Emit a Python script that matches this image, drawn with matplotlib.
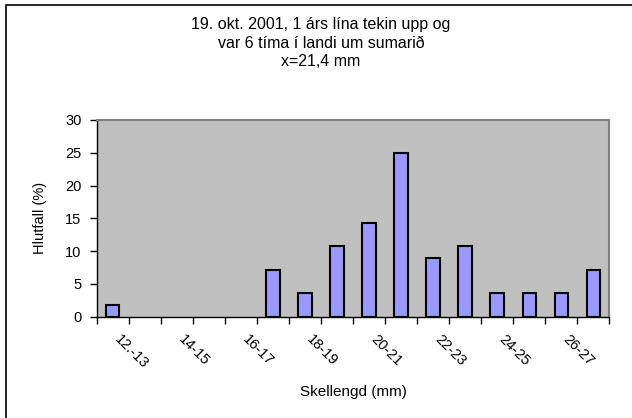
import matplotlib
matplotlib.use('Agg')
import matplotlib.pyplot as plt
import matplotlib.transforms as mtransforms
import numpy as np

# length classes (mm) and share of catch (%)
categories = ['12.-13', '13-14', '14-15', '15-16', '16-17', '17-18', '18-19', '19-20',
              '20-21', '21-22', '22-23', '23-24', '24-25', '25-26', '26-27', '27-28']
percent = [1.79, 0, 0, 0, 0, 7.14, 3.57, 10.71, 14.29, 25.0, 8.93, 10.71, 3.57, 3.57, 3.57, 7.14]
title_lines = ['19. okt. 2001, 1 árs lína tekin upp og',
               'var 6 tíma í landi um sumarið',
               'x=21,4 mm']

plt.rcParams['font.family'] = ['Liberation Sans', 'DejaVu Sans']

fig = plt.figure(figsize=(6.32, 4.18), dpi=100)
ax = fig.add_axes([0.153, 0.2423, 0.8112, 0.4707])

x = np.arange(len(categories))
vals = np.array(percent)
shown = vals > 0  # empty classes get no bar at all
ax.bar(x[shown], vals[shown], width=0.42, color='#9999ff', edgecolor='black', linewidth=1.5, zorder=3)

ax.set_facecolor('#c0c0c0')
ax.set_xlim(-0.5, len(categories) - 0.5)
ax.set_ylim(0, 30)
ax.set_yticks(range(0, 31, 5))
ax.tick_params(axis='y', labelsize=10.5, length=5, width=1, pad=6, direction='out')

# category boundaries get the tick marks, every other category gets a label
ax.set_xticks(np.arange(-0.5, len(categories), 1.0), minor=True)
ax.set_xticks(x[::2])
ax.set_xticklabels(categories[::2], rotation=-45, ha='left', va='top',
                   rotation_mode='anchor', fontsize=10.5)
ax.tick_params(axis='x', which='major', length=0, pad=0)
ax.tick_params(axis='x', which='minor', length=5, width=1, direction='out')
offset = mtransforms.ScaledTranslation(0.09, -0.16, fig.dpi_scale_trans)
for lbl in ax.get_xticklabels():
    lbl.set_transform(lbl.get_transform() + offset)

for side in ['top', 'right']:
    ax.spines[side].set_color('#808080')
    ax.spines[side].set_linewidth(1.5)
for side in ['left', 'bottom']:
    ax.spines[side].set_color('black')
    ax.spines[side].set_linewidth(1)

ax.set_ylabel('Hlutfall (%)', fontsize=10.5)
ax.yaxis.set_label_coords(-0.097, 0.5)
ax.set_xlabel('Skellengd (mm)', fontsize=11)
ax.xaxis.set_label_coords(0.5, -0.345)

for i, line in enumerate(title_lines):
    fig.text(321 / 632, 1 - (25 + 18.5 * i) / 418, line, ha='center', va='center', fontsize=11.5)

# chart border
fig.add_artist(plt.Rectangle((6 / 632, -0.1), 1.2, 1 - 5 / 418 + 0.1, transform=fig.transFigure,
                             fill=False, edgecolor='black', linewidth=1.2))

fig.savefig('out.png', dpi=100)
